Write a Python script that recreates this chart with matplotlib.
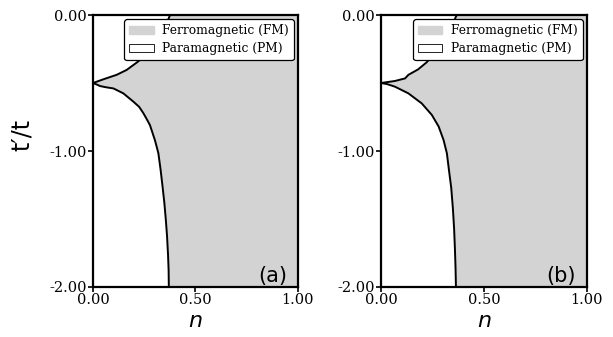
import matplotlib
matplotlib.use("Agg")
import matplotlib.pyplot as plt
from matplotlib.patches import Patch
from matplotlib.ticker import FormatStrFormatter

plt.rcParams['axes.unicode_minus'] = False

# Panel (a) boundaries
a_upper_n = [0.0, 0.05, 0.115, 0.164, 0.213, 0.254, 0.30, 0.34, 0.376]
a_upper_t = [-0.5, -0.473, -0.44, -0.404, -0.35, -0.30, -0.22, -0.13, 0.0]
a_lower_n = [0.0, 0.02, 0.034, 0.059, 0.10, 0.148, 0.197, 0.225, 0.245, 0.262,
             0.278, 0.29, 0.302, 0.311, 0.319, 0.33, 0.34, 0.348, 0.355, 0.361, 0.366,
             0.369, 0.37]
a_lower_t = [-0.5, -0.512, -0.522, -0.53, -0.54, -0.576, -0.637, -0.675, -0.72, -0.765,
             -0.81, -0.865, -0.92, -0.97, -1.017, -1.14, -1.27, -1.38, -1.5, -1.62, -1.76,
             -1.88, -2.0]

# Panel (b) boundaries
b_upper_n = [0.0, 0.068, 0.117, 0.133, 0.18, 0.22, 0.27, 0.32, 0.368]
b_upper_t = [-0.5, -0.485, -0.466, -0.44, -0.40, -0.35, -0.27, -0.15, 0.0]
b_lower_n = [0.0, 0.03, 0.068, 0.133, 0.198, 0.247, 0.28, 0.304, 0.32, 0.33, 0.341,
             0.349, 0.355, 0.359, 0.362, 0.364]
b_lower_t = [-0.5, -0.508, -0.527, -0.576, -0.65, -0.735, -0.82, -0.92, -1.017, -1.14,
             -1.27, -1.42, -1.57, -1.72, -1.86, -2.0]

x_ticks = [0.0, 0.5, 1.0]
y_ticks = [-2.0, -1.0, 0.0]
labels = ["(a)", "(b)"]
legend_labels = ["Ferromagnetic (FM)", "Paramagnetic (PM)"]

fm_color = "#d3d3d3"

fig = plt.figure(figsize=(6.13, 3.37), dpi=100)
ax_a = fig.add_axes([0.1517, 0.1484, 0.3344, 0.807])
ax_b = fig.add_axes([0.6215, 0.1484, 0.3360, 0.807])

panels = [
    (ax_a, a_upper_n, a_upper_t, a_lower_n, a_lower_t),
    (ax_b, b_upper_n, b_upper_t, b_lower_n, b_lower_t),
]

for i, (ax, un, ut, ln, lt) in enumerate(panels):
    ax.set_facecolor(fm_color)
    ax.fill_betweenx(ut, 0, un, color="white", lw=0)
    ax.fill_betweenx(lt, 0, ln, color="white", lw=0)
    ax.plot(un, ut, color="black", lw=1.4)
    ax.plot(ln, lt, color="black", lw=1.4)
    ax.set_xlim(0, 1)
    ax.set_ylim(-2, 0)
    ax.set_xticks(x_ticks)
    ax.set_yticks(y_ticks)
    ax.xaxis.set_major_formatter(FormatStrFormatter('%.2f'))
    ax.yaxis.set_major_formatter(FormatStrFormatter('%.2f'))
    for lab in ax.get_xticklabels() + ax.get_yticklabels():
        lab.set_family("DejaVu Serif")
        lab.set_fontsize(10.5)
    ax.tick_params(axis='both', length=3.5, width=1.2, pad=1)
    for s in ax.spines.values():
        s.set_linewidth(1.6)
    ax.set_xlabel("n", fontsize=16, style="italic", labelpad=3)
    ax.text(0.948, 0.004, labels[i], transform=ax.transAxes, ha="right", va="bottom",
            fontsize=15)
    handles = [Patch(facecolor=fm_color, edgecolor=fm_color),
               Patch(facecolor="white", edgecolor="black", lw=0.6)]
    leg = ax.legend(handles, legend_labels, loc="upper right",
                    prop={"family": "DejaVu Serif", "size": 8.8},
                    frameon=True, fancybox=True, framealpha=1,
                    borderpad=0.4, handlelength=2.0, handletextpad=0.7,
                    labelspacing=0.4, borderaxespad=0.35)
    leg.get_frame().set_edgecolor("black")
    leg.get_frame().set_linewidth(0.9)

ax_a.set_ylabel("t\u2032/t", fontsize=17)
ax_a.yaxis.set_label_coords(-0.29, 0.559)

fig.savefig("out.png", dpi=100)
